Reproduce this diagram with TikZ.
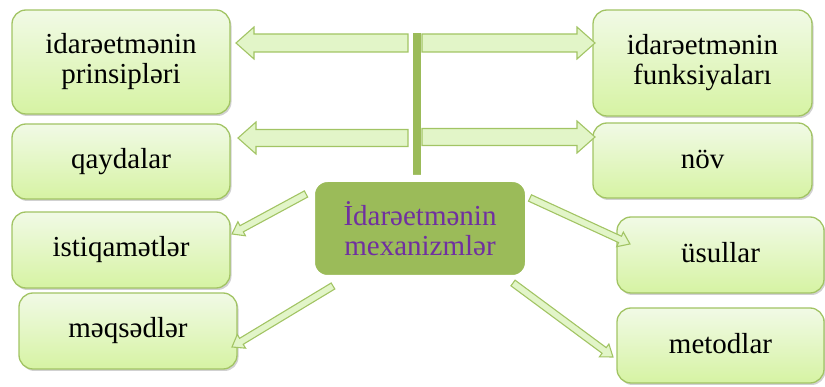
\documentclass[tikz,border=0pt]{standalone}
\usepackage{fontspec}
\setmainfont{Liberation Serif}
\usetikzlibrary{shadows,calc}
\definecolor{olivegr}{HTML}{9BBB59}
\definecolor{boxline}{HTML}{A2C464}
\definecolor{boxtop}{HTML}{F1FAE6}
\definecolor{boxbot}{HTML}{D6F3A3}
\definecolor{arrfill}{HTML}{E2F5C8}
\definecolor{purp}{HTML}{7030A0}
\tikzset{
  box/.style={draw=boxline, line width=1.3pt, rounded corners=14pt,
    top color=boxtop, bottom color=boxbot, align=center, inner sep=0pt,
    font=\fontsize{29}{30}\selectfont,
    drop shadow={shadow xshift=1.5pt, shadow yshift=-2pt, opacity=0.3, fill=black!60}},
  centerbox/.style={draw=white, line width=7pt, rounded corners=16pt, fill=olivegr,
    text=purp, align=center, inner sep=0pt, font=\fontsize{29}{30}\selectfont,
    minimum width=217pt, minimum height=100pt,
    drop shadow={shadow xshift=2pt, shadow yshift=-2pt, opacity=0.25, fill=black!60}},
  arrowsty/.style={draw=boxline, line width=1.1pt, fill=arrfill, line join=miter},
  barsty/.style={draw=olivegr, line width=8pt}
}
\newcommand\blkarrow[5]{%
  \filldraw[arrowsty] let \p1=(#1), \p2=(#2),
    \n1={atan2(\y2-\y1,\x2-\x1)}, \n2={veclen(\x2-\x1,\y2-\y1)} in
    [shift={(\p1)}, rotate=\n1]
    (0pt,#3pt) -- ({\n2*1pt-#5pt},#3pt) -- ({\n2*1pt-#5pt},#4pt) -- ({\n2*1pt},0pt)
    -- ({\n2*1pt-#5pt},-#4pt) -- ({\n2*1pt-#5pt},-#3pt) -- (0pt,-#3pt) -- cycle;}
\begin{document}
\begin{tikzpicture}[x=1pt,y=-1pt]
\useasboundingbox (0,0) rectangle (825,387);
% outer boxes
\node[box, minimum width=218pt, minimum height=104pt] (A) at (121,62) {idarəetmənin\\prinsipləri};
\node[box, minimum width=218pt, minimum height=75pt] (B) at (121,161.5) {\raisebox{4pt}{qaydalar}};
\node[box, minimum width=218pt, minimum height=76pt] (C) at (121,250) {\raisebox{5pt}{istiqamətlər}};
\node[box, minimum width=218pt, minimum height=76pt] (D) at (128,331) {\raisebox{5pt}{məqsədlər}};
\node[box, minimum width=219pt, minimum height=106pt] (E) at (702.5,63) {idarəetmənin\\funksiyaları};
\node[box, minimum width=219pt, minimum height=75pt] (F) at (702.5,160.5) {\raisebox{3pt}{növ}};
\node[box, minimum width=207pt, minimum height=76pt] (G) at (720.5,255) {\raisebox{5pt}{üsullar}};
\node[box, minimum width=207pt, minimum height=75pt] (H) at (720.5,345.5) {\raisebox{4pt}{metodlar}};
% vertical bar
\coordinate (bartop) at (417,33);
\coordinate (barbot) at (417,180);
\draw[barsty] (bartop) -- (barbot);
\node[centerbox] (M) at (420,228.5) {İdarəetmənin\\mexanizmlər};
% arrow end points
\coordinate (l1) at (408,43);  \coordinate (tA) at (236,43);
\coordinate (r1) at (422,43);  \coordinate (tE) at (595,43);
\coordinate (l2) at (408,138); \coordinate (tB) at (238,138);
\coordinate (r2) at (422,137); \coordinate (tF) at (595,137);
\coordinate (sC) at (306,194); \coordinate (tC) at (232,234);
\coordinate (sD) at (333,286); \coordinate (tD) at (232,347);
\coordinate (sG) at (530,198); \coordinate (tG) at (630,244);
\coordinate (sH) at (513,283); \coordinate (tH) at (613,357);
\blkarrow{l1}{tA}{9}{16}{18}
\blkarrow{r1}{tE}{9}{16}{18}
\blkarrow{l2}{tB}{8.5}{16}{18}
\blkarrow{r2}{tF}{8.5}{16}{18}
\blkarrow{sC}{tC}{3.5}{8}{11}
\blkarrow{sD}{tD}{3.5}{8}{11}
\blkarrow{sG}{tG}{3.5}{8}{11}
\blkarrow{sH}{tH}{3.5}{8}{11}
\end{tikzpicture}
\end{document}
